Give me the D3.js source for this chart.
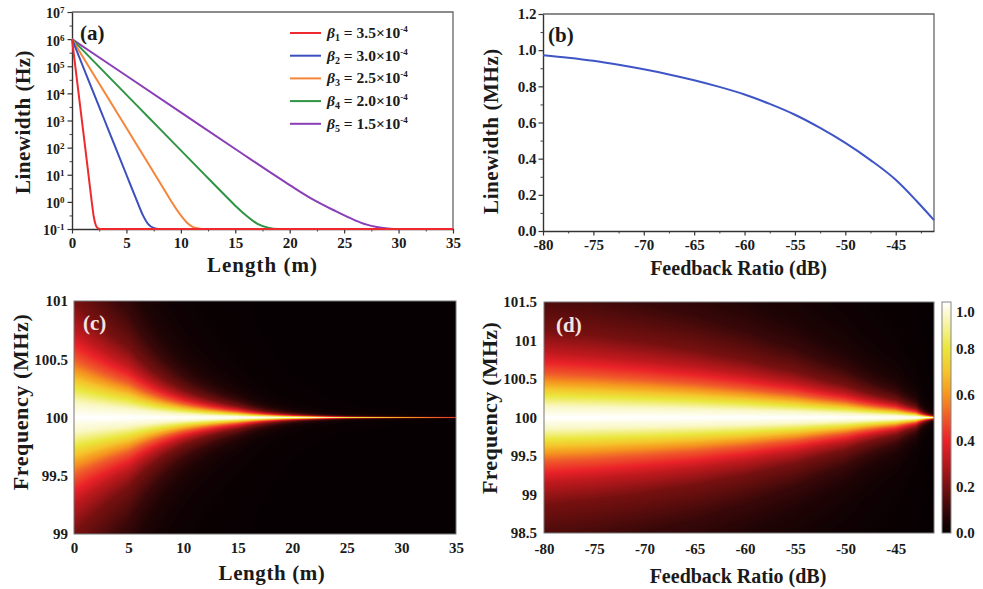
<!DOCTYPE html>
<html>
<head>
<meta charset="utf-8">
<script src="https://cdn.jsdelivr.net/npm/d3@7"></script>
<style>
  body { margin: 0; background: #fff; }
  svg { display: block; }
</style>
</head>
<body>
<svg id="fig" width="983" height="589"></svg>
<script>
// ---------- (a) linewidth vs length, log10 of linewidth in Hz ----------
const betaIndex = ["1", "2", "3", "4", "5"];
const betaValue = ["3.5", "3.0", "2.5", "2.0", "1.5"];
const betaColor = ["#ee2a2e", "#3c4fbf", "#f5853a", "#2f9444", "#8a3fb8"];

const lenB1 = [0, 0.5, 1, 1.5, 1.8, 2.0, 2.2, 2.4, 2.6, 35];
const logB1 = [6, 4.35, 2.7, 1.05, 0.05, -0.55, -0.88, -0.98, -1, -1];
const lenB2 = [0, 1, 2, 3, 4, 5, 5.5, 6, 6.5, 7, 7.5, 8, 8.3];
const logB2 = [6, 5.0, 4.0, 3.0, 2.0, 1.0, 0.5, 0.0, -0.48, -0.82, -0.96, -1, -1];
const lenB3 = [0, 2, 4, 6, 8, 9, 10, 10.5, 11, 11.5, 12, 12.8];
const logB3 = [6, 4.69, 3.38, 2.07, 0.76, 0.1, -0.5, -0.74, -0.9, -0.97, -1, -1];
const lenB4 = [0, 2, 4, 6, 8, 10, 12, 14, 15, 16, 17, 18, 19, 20.9];
const logB4 = [6, 5.18, 4.36, 3.54, 2.72, 1.9, 1.08, 0.26, -0.14, -0.5, -0.8, -0.95, -1, -1];
const lenB5 = [0, 5, 10, 15, 20, 22, 24, 26, 27, 28, 29, 30, 33.1];
const logB5 = [6, 4.65, 3.3, 1.95, 0.62, 0.12, -0.3, -0.68, -0.83, -0.93, -0.98, -1, -1];

const lenTicksA = [0, 5, 10, 15, 20, 25, 30, 35];
const decadeTicksA = [-1, 0, 1, 2, 3, 4, 5, 6, 7];

// ---------- (b) linewidth vs feedback ratio ----------
const fbRatio = [-80, -77.5, -75, -72.5, -70, -67.5, -65, -62.5, -60, -57.5, -55, -52.5, -50, -47.5, -45, -43, -41.2];
const lwMHz   = [0.972, 0.958, 0.941, 0.919, 0.894, 0.866, 0.834, 0.797, 0.755, 0.703, 0.643, 0.570, 0.487, 0.392, 0.283, 0.17, 0.06];
const fbTicks = [-80, -75, -70, -65, -60, -55, -50, -45];
const lwTicks = [0, 0.2, 0.4, 0.6, 0.8, 1.0, 1.2];

// ---------- (c) spectrum map vs length: displayed half width (MHz) ----------
const lenC = [0, 2.5, 5, 7.5, 10, 12.5, 15, 17.5, 20, 22.5, 25, 27.5, 30, 32.5, 35];
const hwC  = [0.5, 0.39, 0.3, 0.19, 0.12, 0.078, 0.05, 0.026, 0.014, 0.008, 0.0045, 0.0034, 0.0026, 0.002, 0.0015];
const freqTicksC = [99, 99.5, 100, 100.5, 101];

// ---------- (d) spectrum map vs feedback ratio: displayed half width (MHz) ----------
const fbD = [-80, -75, -70, -65, -60, -55, -50, -45, -43, -41.2];
const hwD = [0.57, 0.535, 0.49, 0.44, 0.375, 0.30, 0.21, 0.115, 0.065, 0.012];
const freqTicksD = [98.5, 99, 99.5, 100, 100.5, 101, 101.5];

// normalised line shape: intensity vs offset / half width
const profU = [0, 0.25, 0.5, 0.75, 1, 1.5, 2, 3, 4, 6, 10, 20, 40];
const profI = [1, 0.94, 0.8, 0.64, 0.5, 0.31, 0.2, 0.1, 0.059, 0.027, 0.0099, 0.0025, 0.0006];

// colour map used by (c), (d) and the colour bar
const cmapStops  = [0, 0.05, 0.2, 0.3, 0.4, 0.5, 0.6, 0.7, 0.8, 0.9, 1];
const cmapColors = ["#060002", "#1a0304", "#761010", "#b8181c", "#ea2228", "#f05a2a", "#f5961f", "#f5c52c", "#eae63c", "#f6f3a0", "#ffffff"];
const cbTicks = [0, 0.2, 0.4, 0.6, 0.8, 1.0];

// ----------------------------------------------------------------------
const FONT = "'Liberation Serif', 'Times New Roman', serif";
const svg = d3.select("#fig");
const cmap = d3.scaleLinear().domain(cmapStops).range(cmapColors).interpolate(d3.interpolateRgb).clamp(true);

const boxA = { l: 72, r: 453, t: 12, b: 229 };
const boxB = { l: 543, r: 934, t: 14, b: 231 };
const boxC = { l: 74, r: 456, t: 301, b: 534 };
const boxD = { l: 544, r: 934, t: 302, b: 533 };

function styleAxis(g, size) {
  g.attr("font-family", FONT).attr("font-size", size || 15).attr("font-weight", "bold");
  g.select(".domain").attr("stroke", "#333").attr("stroke-width", 1.4);
  g.selectAll(".tick line").attr("stroke", "#333").attr("stroke-width", 1.2);
  g.selectAll(".tick text").attr("fill", "#1a1a1a");
}
function minorAxis(g) {
  g.select(".domain").remove();
  g.selectAll(".tick line").attr("stroke", "#444").attr("stroke-width", 1);
  g.selectAll(".tick text").remove();
}
function title(x, y, text, rotate, size, spacing) {
  const t = svg.append("text")
    .attr("font-family", FONT).attr("font-weight", "bold").attr("font-size", size || 20)
    .attr("letter-spacing", spacing || 0)
    .attr("fill", "#1a1a1a").attr("text-anchor", "middle").text(text);
  if (rotate) t.attr("transform", `translate(${x},${y}) rotate(-90)`);
  else t.attr("x", x).attr("y", y);
  return t;
}
function panelLabel(x, y, text, color) {
  svg.append("text").attr("x", x).attr("y", y)
    .attr("font-family", FONT).attr("font-weight", "bold").attr("font-size", 21)
    .attr("fill", color).text(text);
}

// ======================= (a) =======================
const xA = d3.scaleLinear().domain([0, 35]).range([boxA.l, boxA.r]);
const yA = d3.scaleLog().domain([1e-1, 1e7]).range([boxA.b, boxA.t]);

svg.append("path").attr("d", `M${boxA.l},${boxA.t}H${boxA.r}V${boxA.b}`)
  .attr("fill", "none").attr("stroke", "#666").attr("stroke-width", 1.3);

svg.append("g").attr("transform", `translate(0,${boxA.b})`)
  .call(d3.axisBottom(xA).tickValues(d3.range(2.5, 35, 5)).tickSize(2.5).tickSizeOuter(0)).call(minorAxis);
svg.append("g").attr("transform", `translate(0,${boxA.b})`)
  .call(d3.axisBottom(xA).tickValues(lenTicksA).tickSize(4.5).tickPadding(4).tickSizeOuter(0))
  .call(g => styleAxis(g));

svg.append("g").attr("transform", `translate(${boxA.l},0)`)
  .call(d3.axisLeft(yA).tickValues(decadeTicksA.slice(0, -1).map(e => Math.pow(10, e + 0.5))).tickSize(2.5).tickSizeOuter(0)).call(minorAxis);
const yAxisA = svg.append("g").attr("transform", `translate(${boxA.l},0)`)
  .call(d3.axisLeft(yA).tickValues(decadeTicksA.map(e => Math.pow(10, e))).tickFormat(() => "")
    .tickSize(4.5).tickPadding(3).tickSizeOuter(0))
  .call(g => styleAxis(g, 14));
yAxisA.selectAll(".tick text").each(function (d) {
  const t = d3.select(this).attr("dy", "0.42em");
  t.append("tspan").text("10");
  t.append("tspan").attr("dy", "-0.55em").attr("font-size", 9).text(Math.round(Math.log10(d)));
});

const seriesA = [[lenB1, logB1], [lenB2, logB2], [lenB3, logB3], [lenB4, logB4], [lenB5, logB5]];
const lineA = d3.line().x(d => xA(d[0])).y(d => yA(Math.pow(10, d[1]))).curve(d3.curveMonotoneX);
// draw purple first so that red ends up on top along the floor
for (let i = seriesA.length - 1; i >= 0; i--) {
  const [xs, ys] = seriesA[i];
  svg.append("path").datum(xs.map((x, k) => [x, ys[k]]))
    .attr("d", lineA).attr("fill", "none").attr("stroke", betaColor[i]).attr("stroke-width", 2);
}

// legend
const legend = svg.append("g").attr("font-family", FONT).attr("font-weight", "bold").attr("font-size", 15.5).attr("fill", "#1a1a1a");
betaIndex.forEach((b, i) => {
  const y = 33 + i * 22.7;
  legend.append("line").attr("x1", 290).attr("x2", 321).attr("y1", y).attr("y2", y)
    .attr("stroke", betaColor[i]).attr("stroke-width", 2);
  const t = legend.append("text").attr("x", 327).attr("y", y + 5);
  t.append("tspan").attr("font-style", "italic").text("β");
  t.append("tspan").attr("font-size", 10).attr("dy", 3).text(b);
  t.append("tspan").attr("dy", -3).text(" = " + betaValue[i] + "×10");
  t.append("tspan").attr("font-size", 9).attr("dy", -6).text("-4");
});

title((boxA.l + boxA.r) / 2, 272, "Length (m)", false, 21, 1);
title(30, 122, "Linewidth (Hz)", true, 21, 0.5);
panelLabel(80, 40, "(a)", "#1a1a1a");

// ======================= (b) =======================
const xB = d3.scaleLinear().domain([-80, -41.2]).range([boxB.l, boxB.r]);
const yB = d3.scaleLinear().domain([0, 1.2]).range([boxB.b, boxB.t]);

svg.append("path").attr("d", `M${boxB.l},${boxB.t}H${boxB.r}V${boxB.b}`)
  .attr("fill", "none").attr("stroke", "#666").attr("stroke-width", 1.3);
svg.append("g").attr("transform", `translate(0,${boxB.b})`)
  .call(d3.axisBottom(xB).tickValues(d3.range(-77.5, -41, 5)).tickSize(2.5).tickSizeOuter(0)).call(minorAxis);
svg.append("g").attr("transform", `translate(0,${boxB.b})`)
  .call(d3.axisBottom(xB).tickValues(fbTicks).tickFormat(d => String(d)).tickSize(4.5).tickPadding(4).tickSizeOuter(0))
  .call(g => styleAxis(g));
svg.append("g").attr("transform", `translate(${boxB.l},0)`)
  .call(d3.axisLeft(yB).tickValues(d3.range(0.1, 1.2, 0.2)).tickSize(2.5).tickSizeOuter(0)).call(minorAxis);
svg.append("g").attr("transform", `translate(${boxB.l},0)`)
  .call(d3.axisLeft(yB).tickValues(lwTicks).tickFormat(d3.format(".1f")).tickSize(4.5).tickPadding(2).tickSizeOuter(0))
  .call(g => styleAxis(g));

svg.append("path").datum(fbRatio.map((x, k) => [x, lwMHz[k]]))
  .attr("d", d3.line().x(d => xB(d[0])).y(d => yB(d[1])).curve(d3.curveMonotoneX))
  .attr("fill", "none").attr("stroke", "#3f55c6").attr("stroke-width", 2);

title((boxB.l + boxB.r) / 2, 275, "Feedback Ratio (dB)", false, 20);
title(498, 131, "Linewidth (MHz)", true, 21, 0.6);
panelLabel(548, 42, "(b)", "#1a1a1a");

// ======================= heat maps =======================
const profile = d3.scaleLinear().domain(profU).range(profI).clamp(true);
const lut = d3.range(256).map(i => d3.rgb(cmap(i / 255)));

function heatImage(box, xScale, yScale, colX, colHW, centre) {
  const w = box.r - box.l, h = box.b - box.t;
  const canvas = document.createElement("canvas");
  canvas.width = w; canvas.height = h;
  const ctx = canvas.getContext("2d");
  const img = ctx.createImageData(w, h);
  const logHW = d3.scaleLinear().domain(colX).range(colHW.map(Math.log10)).clamp(true);
  const S = 24;
  for (let i = 0; i < w; i++) {
    const hw = Math.pow(10, logHW(xScale.invert(box.l + i + 0.5)));
    for (let j = 0; j < h; j++) {
      let sum = 0;
      for (let s = 0; s < S; s++) {
        const f = yScale.invert(box.t + j + (s + 0.5) / S);
        sum += profile(Math.abs(f - centre) / hw);
      }
      const c = lut[Math.round(Math.min(1, sum / S) * 255)];
      const k = (j * w + i) * 4;
      img.data[k] = c.r; img.data[k + 1] = c.g; img.data[k + 2] = c.b; img.data[k + 3] = 255;
    }
  }
  ctx.putImageData(img, 0, 0);
  svg.append("image").attr("x", box.l).attr("y", box.t).attr("width", w).attr("height", h)
    .attr("preserveAspectRatio", "none").attr("href", canvas.toDataURL());
  svg.append("rect").attr("x", box.l).attr("y", box.t).attr("width", w).attr("height", h)
    .attr("fill", "none").attr("stroke", "#777").attr("stroke-width", 1);
}

// ======================= (c) =======================
const xC = d3.scaleLinear().domain([0, 35]).range([boxC.l, boxC.r]);
const yC = d3.scaleLinear().domain([99, 101]).range([boxC.b, boxC.t]);
heatImage(boxC, xC, yC, lenC, hwC, 100);
svg.append("g").attr("transform", `translate(0,${boxC.b})`)
  .call(d3.axisBottom(xC).tickValues(lenTicksA).tickSize(0).tickPadding(8))
  .call(g => { styleAxis(g); g.select(".domain").remove(); });
svg.append("g").attr("transform", `translate(${boxC.l},0)`)
  .call(d3.axisLeft(yC).tickValues(freqTicksC).tickFormat(d => String(d)).tickSize(0).tickPadding(6))
  .call(g => { styleAxis(g); g.select(".domain").remove(); });
title(272, 580, "Length (m)", false, 21, 0.6);
title(28, 402, "Frequency (MHz)", true, 22, 0.6);
panelLabel(83, 330, "(c)", "#f3e4e4");

// ======================= (d) =======================
const xD = d3.scaleLinear().domain([-80, -41.2]).range([boxD.l, boxD.r]);
const yD = d3.scaleLinear().domain([98.5, 101.5]).range([boxD.b, boxD.t]);
heatImage(boxD, xD, yD, fbD, hwD, 100);
svg.append("g").attr("transform", `translate(0,${boxD.b})`)
  .call(d3.axisBottom(xD).tickValues(fbTicks).tickFormat(d => String(d)).tickSize(0).tickPadding(10))
  .call(g => { styleAxis(g); g.select(".domain").remove(); });
svg.append("g").attr("transform", `translate(${boxD.l},0)`)
  .call(d3.axisLeft(yD).tickValues(freqTicksD).tickFormat(d => String(d)).tickSize(0).tickPadding(7))
  .call(g => { styleAxis(g); g.select(".domain").remove(); });
title(738, 583, "Feedback Ratio (dB)", false, 20);
title(497, 408, "Frequency (MHz)", true, 22, 0.3);
panelLabel(556, 332, "(d)", "#f3e4e4");

// colour bar
const cb = { l: 942, r: 951, t: 302, b: 533 };
const grad = svg.append("defs").append("linearGradient").attr("id", "cbGrad")
  .attr("x1", 0).attr("y1", 1).attr("x2", 0).attr("y2", 0);
cmapStops.forEach((s, i) => grad.append("stop").attr("offset", s).attr("stop-color", cmapColors[i]));
svg.append("rect").attr("x", cb.l).attr("y", cb.t).attr("width", cb.r - cb.l).attr("height", cb.b - cb.t)
  .attr("fill", "url(#cbGrad)").attr("stroke", "#888").attr("stroke-width", 1);
const yCb = d3.scaleLinear().domain([0, 1]).range([cb.b, cb.t]);
svg.append("g").attr("transform", `translate(${cb.r},0)`)
  .call(d3.axisRight(yCb).tickValues(cbTicks).tickFormat(d3.format(".1f")).tickSize(0).tickPadding(5))
  .call(g => {
    styleAxis(g); g.select(".domain").remove();
    g.selectAll(".tick text").filter(d => d === 1).attr("dy", "0.95em");
  });
</script>
</body>
</html>
